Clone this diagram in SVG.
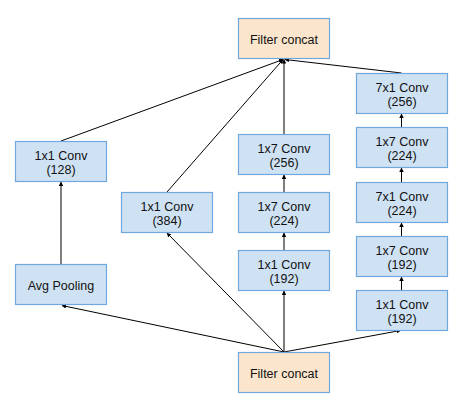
<svg xmlns="http://www.w3.org/2000/svg" width="469" height="400" viewBox="0 0 469 400">
<style>
.b{fill:#cfe2f3;stroke:#6fa8dc;stroke-width:1.2}
.o{fill:#fce5cd;stroke:#6fa8dc;stroke-width:1.2}
text{font-family:"Liberation Sans",Arial,sans-serif;font-size:12.5px;fill:#111;text-anchor:middle}
.e{stroke:#000;stroke-width:1;fill:none;marker-end:url(#a)}
</style>
<defs>
<marker id="a" viewBox="0 0 10 10" refX="9" refY="5" markerWidth="4.5" markerHeight="4.5" orient="auto" markerUnits="userSpaceOnUse">
<path d="M0,0 L10,5 L0,10 z" fill="#000"/>
</marker>
</defs>
<rect width="469" height="400" fill="#fff"/>
<g id="connectors">
<line class="e" x1="61" y1="141" x2="283" y2="59.5"/>
<line class="e" x1="167" y1="192" x2="283" y2="59.5"/>
<line class="e" x1="284" y1="134" x2="284" y2="59.5"/>
<line class="e" x1="401.5" y1="73" x2="285" y2="59.5"/>
<line class="e" x1="61" y1="264" x2="61" y2="182"/>
<line class="e" x1="284" y1="250" x2="284" y2="233"/>
<line class="e" x1="284" y1="192" x2="284" y2="175"/>
<line class="e" x1="401.5" y1="290" x2="401.5" y2="277"/>
<line class="e" x1="401.5" y1="236" x2="401.5" y2="223"/>
<line class="e" x1="401.5" y1="182" x2="401.5" y2="168"/>
<line class="e" x1="401.5" y1="127" x2="401.5" y2="114"/>
<line class="e" x1="284" y1="352" x2="62" y2="305.5"/>
<line class="e" x1="284" y1="352" x2="167" y2="233"/>
<line class="e" x1="284" y1="352" x2="284" y2="291"/>
<line class="e" x1="284" y1="352" x2="400.5" y2="330.5"/>
</g>
<g id="top_concat"><rect class="o" x="238.5" y="18.5" width="91" height="40"/><text x="284" y="44">Filter concat</text></g>
<g id="bottom_concat"><rect class="o" x="238.5" y="352.5" width="91" height="40"/><text x="284" y="378">Filter concat</text></g>
<g id="conv128"><rect class="b" x="15.5" y="141.5" width="91" height="40"/><text x="61" y="160">1x1 Conv</text><text x="61" y="174">(128)</text></g>
<g id="avgpool"><rect class="b" x="15.5" y="264.5" width="91" height="40"/><text x="61" y="290">Avg Pooling</text></g>
<g id="conv384"><rect class="b" x="121.5" y="192.5" width="91" height="40"/><text x="167" y="211">1x1 Conv</text><text x="167" y="225">(384)</text></g>
<g id="c3_256"><rect class="b" x="238.5" y="134.5" width="91" height="40"/><text x="284" y="153">1x7 Conv</text><text x="284" y="167">(256)</text></g>
<g id="c3_224"><rect class="b" x="238.5" y="192.5" width="91" height="40"/><text x="284" y="211">1x7 Conv</text><text x="284" y="225">(224)</text></g>
<g id="c3_192"><rect class="b" x="238.5" y="250.5" width="91" height="40"/><text x="284" y="269">1x1 Conv</text><text x="284" y="283">(192)</text></g>
<g id="c4_256"><rect class="b" x="356.5" y="73.5" width="91" height="40"/><text x="402" y="92">7x1 Conv</text><text x="402" y="106">(256)</text></g>
<g id="c4_224a"><rect class="b" x="356.5" y="127.5" width="91" height="40"/><text x="402" y="146">1x7 Conv</text><text x="402" y="160">(224)</text></g>
<g id="c4_224b"><rect class="b" x="356.5" y="182.5" width="91" height="40"/><text x="402" y="201">7x1 Conv</text><text x="402" y="215">(224)</text></g>
<g id="c4_192a"><rect class="b" x="356.5" y="236.5" width="91" height="40"/><text x="402" y="255">1x7 Conv</text><text x="402" y="269">(192)</text></g>
<g id="c4_192b"><rect class="b" x="356.5" y="290.5" width="91" height="40"/><text x="402" y="309">1x1 Conv</text><text x="402" y="323">(192)</text></g>
</svg>
